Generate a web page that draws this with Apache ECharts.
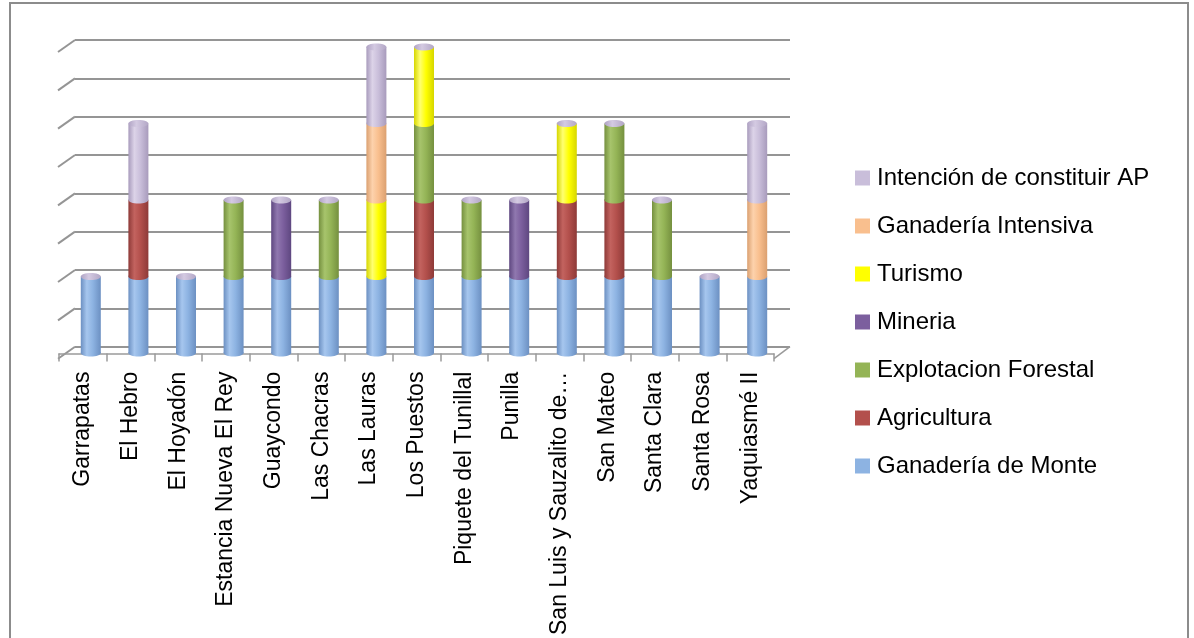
<!DOCTYPE html>
<html><head><meta charset="utf-8">
<script src="https://cdn.jsdelivr.net/npm/echarts@6/dist/echarts.min.js"></script>
<style>html,body{margin:0;padding:0;background:#fff}#c{width:1194px;height:638px}</style>
</head><body><div id="c"></div>
<script>
// ---- data ----
const categories = ['Garrapatas','El Hebro','El Hoyadón','Estancia Nueva El Rey','Guaycondo','Las Chacras','Las Lauras','Los Puestos','Piquete del Tunillal','Punilla','San Luis y Sauzalito de…','San Mateo','Santa Clara','Santa Rosa','Yaquiasmé II'];
const seriesNames = ['Ganadería de Monte','Agricultura','Explotacion Forestal','Mineria','Turismo','Ganadería Intensiva','Intención de constituir AP'];
const ganaderiaMonte      = [1,1,1,1,1,1,1,1,1,1,1,1,1,1,1];
const agricultura         = [0,1,0,0,0,0,0,1,0,0,1,1,0,0,0];
const explotacionForestal = [0,0,0,1,0,1,0,1,1,0,0,1,1,0,0];
const mineria             = [0,0,0,0,1,0,0,0,0,1,0,0,0,0,0];
const turismo             = [0,0,0,0,0,0,1,1,0,0,1,0,0,0,0];
const ganaderiaIntensiva  = [0,0,0,0,0,0,1,0,0,0,0,0,0,0,1];
const intencionAP         = [0,1,0,0,0,0,1,0,0,0,0,0,0,0,1];
const seriesValues = [ganaderiaMonte, agricultura, explotacionForestal, mineria, turismo, ganaderiaIntensiva, intencionAP];

// ---- styles ----
const palette = [
  {base:'#8DB3E2', light:'#A6C6EE', dark:'#6C90C2'},
  {base:'#B3504C', light:'#C3635F', dark:'#8E3A38'},
  {base:'#94B456', light:'#A7C46C', dark:'#75903F'},
  {base:'#7C5F9E', light:'#9078AF', dark:'#5E4780'},
  {base:'#FFFF00', light:'#FFFF70', dark:'#D6D600'},
  {base:'#F9BF8E', light:'#FDD2AC', dark:'#DBA070'},
  {base:'#C9BEDA', light:'#DCD3E8', dark:'#A89BBC'}
];
const barW = 20, capRy = 3.5;
const FONT = 'Liberation Sans';

function grad(p){
  return new echarts.graphic.LinearGradient(0,0,1,0,[
    {offset:0, color:p.dark},{offset:0.3, color:p.light},{offset:0.6, color:p.base},{offset:1, color:p.dark}
  ]);
}

// stacked data with base/top
const n = categories.length;
const cum = new Array(n).fill(0);
const stackData = seriesValues.map(vals => vals.map((v,i)=>{ const b = cum[i]; cum[i] += v; return [i,b,b+v,0]; }));
for (let i=0;i<n;i++){
  for (let s=seriesValues.length-1;s>=0;s--){ if (seriesValues[s][i]>0){ stackData[s][i][3]=1; break; } }
}

function makeRender(sIdx){
  const p = palette[sIdx];
  return function(params, api){
    const i = api.value(0), b = api.value(1), t = api.value(2), top = api.value(3);
    if (!(t>b)) return;
    const p0 = api.coord([i,b]), p1 = api.coord([i,t]);
    const x = p0[0]-barW/2;
    const children = [
      {type:'rect', shape:{x:x, y:p1[1], width:barW, height:p0[1]-p1[1]}, style:{fill:grad(p)}},
      {type:'ellipse', shape:{cx:p0[0], cy:p0[1], rx:barW/2, ry:capRy}, style:{fill:grad(p)}}
    ];
    if (top){
      children.push({type:'ellipse', shape:{cx:p1[0], cy:p1[1], rx:barW/2, ry:capRy},
        style:{fill:new echarts.graphic.LinearGradient(0,0,1,0,[{offset:0,color:'#B0A3C4'},{offset:0.4,color:'#D4CAE2'},{offset:1,color:'#B3A7C6'}])}});
    }
    return {type:'group', children};
  };
}

const series = seriesNames.map((name,s)=>({
  name, type:'custom', xAxisIndex:0, yAxisIndex:0,
  itemStyle:{color:palette[s].base},
  renderItem: makeRender(s),
  encode:{x:0, y:[1,2]},
  data: stackData[s].filter(d=>d[2]>d[1])
}));

const option = {
  backgroundColor:'#ffffff',
  animation:false,
  grid:[
    {left:67, top:47, width:714, height:306},      // cylinders
    {left:75, top:40, width:715, height:306.7},    // back wall gridlines
    {left:59, top:40, width:715, bottom:279.5}     // front floor edge + labels
  ],
  xAxis:[
    {gridIndex:0, type:'category', data:categories, show:false},
    {gridIndex:1, type:'category', data:categories, show:false},
    {gridIndex:2, type:'category', data:categories,
      axisLine:{lineStyle:{color:'#9A9A9A', width:1.5}},
      axisTick:{show:true, interval:0, length:8, lineStyle:{color:'#9A9A9A', width:1.5}},
      axisLabel:{interval:0, rotate:90, margin:18, color:'#000', fontFamily:FONT, fontSize:23}
    }
  ],
  yAxis:[
    {gridIndex:0, type:'value', min:0, max:4, show:false},
    {gridIndex:1, type:'value', min:0, max:4, interval:0.5,
      axisLine:{show:false}, axisTick:{show:false}, axisLabel:{show:false},
      splitLine:{show:true, lineStyle:{color:'#959595', width:2}}},
    {gridIndex:2, type:'value', min:0, max:1, show:false}
  ],
  legend:{
    orient:'vertical', left:855, top:166, padding:0, itemGap:24, itemWidth:15, itemHeight:15, icon:'rect',
    data: seriesNames.slice().reverse(),
    textStyle:{fontFamily:FONT, fontSize:24, color:'#000', lineHeight:24, padding:[0,0,0,2]}
  },
  series
};

const chart = echarts.init(document.getElementById('c'));
chart.setOption(option);

// perspective decorations derived from the axes
const g = [];
const gridL = 75, gridR = 790, dx = 17, dy = 12;
for (let v=0; v<=4.0001; v+=0.5){
  const y = chart.convertToPixel({yAxisIndex:1}, v);
  g.push({type:'line', shape:{x1:gridL, y1:y, x2:gridL-dx, y2:y+dy}, style:{stroke:'#959595', lineWidth:2}});
  if (v===0) g.push({type:'line', shape:{x1:gridR, y1:y, x2:gridR-dx+1, y2:y+dy}, style:{stroke:'#9A9A9A', lineWidth:1.5}});
}
g.push({type:'rect', shape:{x:10, y:3, width:1178, height:660}, style:{fill:'none', stroke:'#8C8C8C', lineWidth:2}, silent:true});
chart.setOption({graphic:g});
</script>
</body></html>
